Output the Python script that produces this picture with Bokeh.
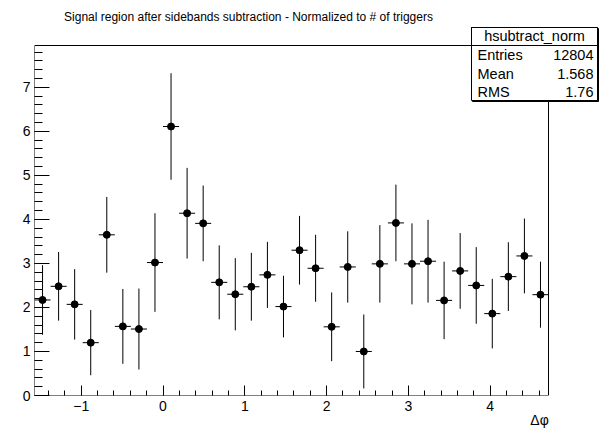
import numpy as np
from bokeh.plotting import figure
from bokeh.models import FixedTicker, Range1d, Label, BoxAnnotation, ColumnDataSource
from bokeh.embed import file_html
from bokeh.resources import INLINE

# ---- data ----
title_text = "Signal region after sidebands subtraction - Normalized to # of triggers"
x_label = "\u0394\u03c6"
n_bins = 32
x_lo, x_hi = -np.pi / 2, 3 * np.pi / 2
y_lo, y_hi = 0.0, 7.95
values = [2.17, 2.48, 2.07, 1.20, 3.65, 1.57, 1.51, 3.02, 6.11, 4.14, 3.91, 2.57,
          2.30, 2.47, 2.74, 2.02, 3.30, 2.89, 1.56, 2.92, 1.00, 2.99, 3.92, 2.99,
          3.05, 2.16, 2.83, 2.50, 1.86, 2.70, 3.17, 2.29]
errors = [0.79, 0.78, 0.80, 0.74, 0.86, 0.85, 0.92, 1.12, 1.21, 1.03, 0.86, 0.84,
          0.82, 0.77, 0.75, 0.70, 0.78, 0.76, 0.78, 0.81, 0.84, 0.88, 0.87, 0.92,
          0.94, 0.88, 0.86, 0.87, 0.79, 0.78, 0.85, 0.75]
x_ticks = [-1, 0, 1, 2, 3, 4]
y_ticks = [0, 1, 2, 3, 4, 5, 6, 7]
stats_name = "hsubtract_norm"
stats_keys = ["Entries", "Mean", "RMS"]
stats_vals = ["12804", "1.568", "1.76"]

edges = np.linspace(x_lo, x_hi, n_bins + 1)
centers = 0.5 * (edges[:-1] + edges[1:])
vals = np.array(values)
errs = np.array(errors)
src = ColumnDataSource(dict(
    x=centers, y=vals, lo=vals - errs, hi=vals + errs,
    x0=edges[:-1], x1=edges[1:]))

FONT = "Liberation Sans"

# layout (canvas pixels): histogram frame 34..548 x 45..395; plot frame enlarged to hold stats box
W, H = 612, 428
FL, FR, FT, FB = 34, 548, 45, 395       # ROOT frame
PR, PT = 599, 26                        # enlarged bokeh frame right / top
xs = (FR - FL) / (x_hi - x_lo)
ys = (FB - FT) / (y_hi - y_lo)
x_end = x_hi + (PR - FR) / xs
y_end = y_hi + (FT - PT) / ys

p = figure(width=W, height=H, output_backend="svg", toolbar_location=None,
           x_range=Range1d(x_lo, x_end), y_range=Range1d(y_lo, y_end),
           min_border_left=FL, min_border_right=W - PR, min_border_top=PT,
           min_border_bottom=H - FB, title=None)
p.grid.visible = False
p.outline_line_color = None
p.background_fill_color = "white"
p.border_fill_color = "white"

# histogram frame box
p.add_layout(BoxAnnotation(left=x_lo, right=x_hi, bottom=y_lo, top=y_hi,
                           fill_alpha=0, line_color="black", line_width=1, line_alpha=1,
                           level="underlay"))

# axes
xa = p.xaxis[0]
xa.ticker = FixedTicker(ticks=x_ticks, minor_ticks=list(np.round(np.arange(-1.4, 4.61, 0.2), 2)))
xa.major_tick_in = 10
xa.major_tick_out = 0
xa.minor_tick_in = 5
xa.minor_tick_out = 0
xa.major_label_standoff = 5
xa.major_label_overrides = {-1: "\u22121"}
xa.major_label_text_font = FONT
xa.major_label_text_font_size = "14px"
xa.major_label_text_color = "black"
xa.axis_line_color = None
xa.major_tick_line_color = "black"
xa.minor_tick_line_color = "black"

ya = p.yaxis[0]
ya.ticker = FixedTicker(ticks=y_ticks, minor_ticks=list(np.round(np.arange(0, 7.95, 0.2), 2)))
ya.major_tick_in = 15
ya.major_tick_out = 0
ya.minor_tick_in = 8
ya.minor_tick_out = 0
ya.major_label_standoff = 4
ya.major_label_text_font = FONT
ya.major_label_text_font_size = "14px"
ya.major_label_text_color = "black"
ya.axis_line_color = None
ya.major_tick_line_color = "black"
ya.minor_tick_line_color = "black"

# data marks
p.segment(x0="x", y0="lo", x1="x", y1="hi", source=src, line_color="black", line_width=1)
p.segment(x0="x0", y0="y", x1="x1", y1="y", source=src, line_color="black", line_width=1)
p.scatter(x="x", y="y", source=src, size=7, color="black", marker="circle")

# title (above panel, canvas coordinates)
p.add_layout(Label(x=248, y=16, x_units="canvas", y_units="canvas", text=title_text,
                   text_font=FONT, text_font_size="12px", text_align="center",
                   text_baseline="middle", text_color="black"), "above")

# x axis label (placed via left panel so it is not clipped)
p.add_layout(Label(x=539, y=419, x_units="canvas", y_units="canvas", text=x_label,
                   text_font=FONT, text_font_size="14px", text_align="center",
                   text_baseline="middle", text_color="black"), "left")

# stats box
L, R, T, S, B = 471, 597, 27, 45, 100
def cbox(**kw):
    return BoxAnnotation(left_units="canvas", right_units="canvas",
                         top_units="canvas", bottom_units="canvas", **kw)
p.add_layout(cbox(left=L + 1, right=R + 1, top=T + 1, bottom=B + 1,
                  fill_color="black", fill_alpha=1, line_color="black", line_alpha=1))
p.add_layout(cbox(left=L, right=R, top=T, bottom=B, fill_color="white", fill_alpha=1,
                  line_color="black", line_width=1, line_alpha=1))
p.add_layout(cbox(left=L, right=R, top=T, bottom=S, fill_alpha=0,
                  line_color="black", line_width=1, line_alpha=1))
p.add_layout(Label(x=(L + R) / 2, y=(T + S) / 2 - 0.5, x_units="canvas", y_units="canvas",
                   text=stats_name, text_font=FONT, text_font_size="14.5px",
                   text_align="center", text_baseline="middle", text_color="black"))
row_h = (B - S) / len(stats_keys)
for i, (k, v) in enumerate(zip(stats_keys, stats_vals)):
    yc = S + row_h * (i + 0.5) + 0.5
    p.add_layout(Label(x=L + 6, y=yc, x_units="canvas", y_units="canvas", text=k,
                       text_font=FONT, text_font_size="14.5px", text_align="left",
                       text_baseline="middle", text_color="black"))
    p.add_layout(Label(x=R - 4, y=yc, x_units="canvas", y_units="canvas", text=v,
                       text_font=FONT, text_font_size="14.5px", text_align="right",
                       text_baseline="middle", text_color="black"))

open("out.html", "w").write(file_html(p, INLINE))
